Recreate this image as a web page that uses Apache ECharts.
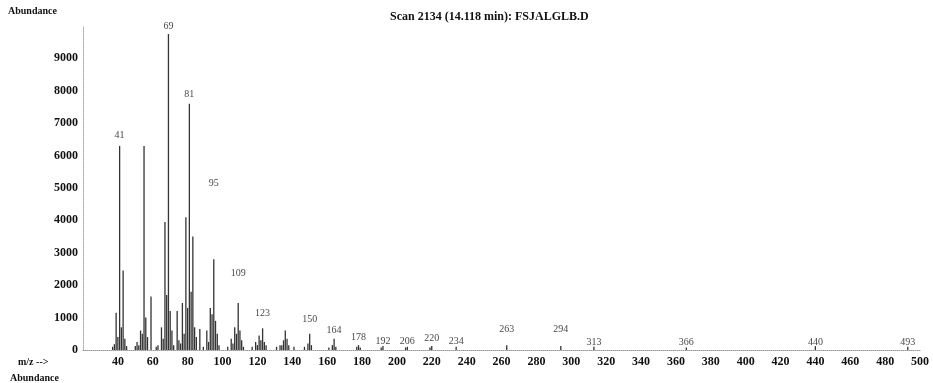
<!DOCTYPE html>
<html>
<head>
<meta charset="utf-8">
<script src="https://cdn.jsdelivr.net/npm/echarts@6/dist/echarts.min.js"></script>
<style>
  html, body { margin: 0; padding: 0; background: #fff; }
  #chart { width: 933px; height: 383px; }
</style>
</head>
<body>
<div id="chart"></div>
<script>
const title = 'Scan 2134 (14.118 min): FSJALGLB.D'

// m/z of each peak line and its abundance
const peakMz = [
  37, 38, 39, 40, 41, 42, 43, 44, 45,
  50, 51, 52, 53, 54, 55, 56, 57, 59,
  62, 63, 65, 66, 67, 68, 69, 70, 71, 72,
  74, 75, 76, 77, 78, 79, 80, 81, 82, 83, 84, 85, 87, 89,
  91, 92, 93, 94, 95, 96, 97, 98,
  103, 105, 106, 107, 108, 109, 110, 111, 112,
  117, 119, 120, 121, 122, 123, 124, 125,
  131, 133, 134, 135, 136, 137, 138, 141,
  147, 149, 150, 151, 161, 163, 164, 165,
  177, 178, 179, 191, 192, 205, 206, 219, 220, 234,
  263, 294, 313, 366, 440, 493
]
const peakAbundance = [
  100, 180, 1150, 400, 6300, 700, 2450, 350, 120,
  120, 250, 150, 600, 500, 6300, 1000, 400, 1650,
  100, 150, 700, 350, 3950, 1700, 9750, 1200, 600, 150,
  1200, 300, 200, 1450, 500, 4100, 1300, 7600, 1800, 3500, 700, 400, 650, 100,
  600, 250, 1300, 1100, 2800, 900, 500, 150,
  100, 350, 200, 700, 500, 1450, 600, 300, 100,
  100, 250, 150, 450, 300, 670, 250, 150,
  100, 150, 150, 300, 600, 350, 150, 100,
  100, 200, 500, 150, 80, 150, 350, 100,
  100, 150, 80, 80, 120, 80, 100, 80, 120, 100,
  150, 120, 100, 80, 120, 100
]

// labelled peaks and the abundance level where each label is printed
const labelMz = [41, 69, 81, 95, 109, 123, 150, 164, 178, 192, 206, 220, 234, 263, 294, 313, 366, 440, 493]
const labelAt = [6630, 9990, 7900, 5150, 2370, 1140, 955, 615, 400, 280, 280, 370, 280, 650, 650, 250, 250, 250, 250]

const chart = echarts.init(document.getElementById('chart'))
const serif = '"Liberation Serif", "DejaVu Serif", serif'

chart.setOption({
  animation: false,
  backgroundColor: '#fff',
  title: {
    text: title,
    left: 385,
    top: 6,
    textStyle: { fontFamily: serif, fontSize: 12, fontWeight: 'bold', color: '#111' },
  },
  graphic: [
    { type: 'text', left: 8, top: 6, style: { text: 'Abundance', font: 'bold 10px ' + serif, fill: '#111' } },
    { type: 'text', left: 18, top: 357, style: { text: 'm/z -->', font: 'bold 10px ' + serif, fill: '#111' } },
    { type: 'text', left: 10, top: 373, style: { text: 'Abundance', font: 'bold 10px ' + serif, fill: '#111' } },
  ],
  grid: { left: 83, right: 13, top: 26, bottom: 33 },
  xAxis: {
    type: 'value',
    min: 20,
    max: 500,
    interval: 20,
    axisLine: { lineStyle: { color: '#999', type: 'dotted', width: 1 } },
    axisTick: { show: false },
    splitLine: { show: false },
    axisLabel: {
      showMinLabel: false,
      margin: 6,
      fontFamily: serif,
      fontSize: 12,
      fontWeight: 'bold',
      color: '#111',
    },
  },
  yAxis: {
    type: 'value',
    min: 0,
    max: 10000,
    interval: 1000,
    axisLine: { show: true, lineStyle: { color: '#aaa', type: 'dotted', width: 1 } },
    axisTick: { show: false },
    splitLine: { show: false },
    axisLabel: {
      showMaxLabel: false,
      margin: 5,
      formatter: v => String(v),
      fontFamily: serif,
      fontSize: 12,
      fontWeight: 'bold',
      color: '#111',
    },
  },
  series: [
    {
      name: 'peaks',
      type: 'bar',
      data: peakMz.map((m, i) => [m, peakAbundance[i]]),
      barWidth: 1.3,
      itemStyle: { color: '#333' },
    },
    {
      name: 'labels',
      type: 'scatter',
      clip: false,
      symbolSize: 1,
      itemStyle: { color: 'rgba(0,0,0,0)' },
      data: labelMz.map((m, i) => [m, labelAt[i]]),
      label: {
        show: true,
        position: 'inside',
        formatter: p => String(p.value[0]),
        fontFamily: serif,
        fontSize: 10,
        color: '#111',
      },
      z: 5,
    },
  ],
})

window.addEventListener('resize', () => chart.resize())
</script>
</body>
</html>
